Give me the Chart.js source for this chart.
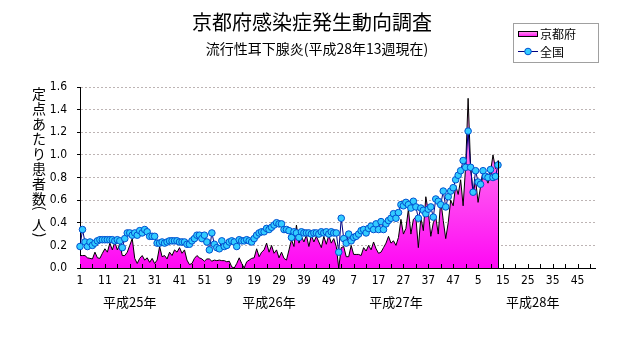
<!DOCTYPE html>
<html><head><meta charset="utf-8">
<script src="https://cdn.jsdelivr.net/npm/chart.js@4.4.0/dist/chart.umd.min.js"></script>
<style>html,body{margin:0;padding:0;background:#fff;}#wrap{width:631px;height:347px;}</style>
</head><body><div id="wrap"><canvas id="c" width="631" height="347"></canvas></div>
<script>
const chartTitle = '京都府感染症発生動向調査';
const chartSubtitle = '流行性耳下腺炎(平成28年13週現在)';
const yAxisTitle = '定点あたり患者数(人)';
const seriesNames = ['京都府', '全国'];
const yearLabels = ['平成25年', '平成26年', '平成27年', '平成28年'];
const weeksPerYear = [52, 52, 52, 52];
const yMin = 0, yMax = 1.6, yStep = 0.2;

const kyoto2013 = [0.11,0.11,0.11,0.09,0.085,0.08,0.14,0.09,0.085,0.13,
  0.17,0.14,0.22,0.16,0.23,0.16,0.21,0.11,0.11,0.14,
  0.20,0.26,0.085,0.04,0.085,0.11,0.07,0.09,0.05,0.085,
  0.04,0.07,0.19,0.10,0.11,0.08,0.14,0.11,0.16,0.14,
  0.18,0.13,0.16,0.07,0.03,0.04,0.085,0.11,0.09,0.08,
  0.06,0.08];
const kyoto2014 = [0.08,0.06,0.07,0.065,0.07,0.065,0.065,0.055,0.06,0.01,
  0.0,0.04,0.09,0.04,0.0,0.055,0.07,0.085,0.09,0.17,
  0.10,0.14,0.16,0.22,0.14,0.20,0.13,0.16,0.09,0.14,
  0.085,0.07,0.16,0.25,0.19,0.38,0.22,0.28,0.23,0.29,
  0.19,0.29,0.23,0.28,0.23,0.18,0.28,0.21,0.29,0.22,
  0.26,0.19];
const kyoto2015 = [0.0,0.18,0.19,0.10,0.10,0.20,0.12,0.12,0.12,0.11,
  0.18,0.15,0.20,0.16,0.23,0.17,0.13,0.14,0.18,0.22,
  0.28,0.22,0.24,0.20,0.27,0.43,0.30,0.35,0.52,0.30,
  0.43,0.45,0.18,0.45,0.33,0.63,0.50,0.28,0.40,0.45,
  0.30,0.60,0.42,0.26,0.40,0.60,0.55,0.73,0.65,0.78,
  0.55,0.90];
const kyoto2016 = [1.50,0.90,0.65,0.78,0.58,0.72,0.82,0.80,0.75,0.85,1.00,0.88,0.95];

const national2013 = [0.19,0.34,0.23,0.19,0.23,0.20,0.22,0.24,0.25,0.25,
  0.25,0.25,0.25,0.25,0.24,0.25,0.24,0.18,0.26,0.31,
  0.31,0.29,0.31,0.29,0.33,0.31,0.34,0.32,0.28,0.28,
  0.28,0.22,0.22,0.23,0.22,0.23,0.24,0.24,0.24,0.24,
  0.23,0.23,0.23,0.21,0.21,0.24,0.26,0.29,0.29,0.26,
  0.29,0.23];
const national2014 = [0.16,0.31,0.21,0.18,0.17,0.24,0.19,0.20,0.23,0.24,
  0.23,0.19,0.25,0.24,0.24,0.25,0.24,0.23,0.26,0.29,
  0.31,0.32,0.32,0.35,0.34,0.36,0.38,0.40,0.39,0.39,
  0.34,0.34,0.33,0.27,0.32,0.31,0.27,0.32,0.31,0.31,
  0.31,0.30,0.31,0.31,0.30,0.32,0.31,0.32,0.30,0.32,
  0.31,0.31];
const national2015 = [0.14,0.44,0.26,0.22,0.30,0.24,0.27,0.28,0.30,0.33,
  0.34,0.31,0.35,0.37,0.34,0.39,0.34,0.41,0.34,0.39,
  0.42,0.44,0.48,0.44,0.49,0.56,0.55,0.58,0.56,0.53,
  0.59,0.54,0.44,0.53,0.51,0.48,0.52,0.54,0.45,0.61,
  0.59,0.56,0.68,0.54,0.63,0.68,0.71,0.78,0.82,0.86,
  0.95,0.89];
const national2016 = [1.21,0.89,0.67,0.86,0.76,0.74,0.86,0.81,0.80,0.87,0.80,0.81,0.91];

// categories: week numbers of each year
const categories = [];
weeksPerYear.forEach(n => { for (let w = 1; w <= n; w++) categories.push(String(w)); });
const padTo = (arr) => arr.concat(new Array(categories.length - arr.length).fill(null));
const kyotoValues = padTo([...kyoto2013, ...kyoto2014, ...kyoto2015, ...kyoto2016]);
const nationalValues = padTo([...national2013, ...national2014, ...national2015, ...national2016]);

const JP = "'Noto Sans CJK JP','Noto Sans',sans-serif";
const NUM = "'Liberation Sans Narrow','DejaVu Sans Condensed','Liberation Sans',sans-serif";

function pinkGradient(ctx, top, bottom) {
  const g = ctx.createLinearGradient(0, top, 0, bottom);
  g.addColorStop(0, '#ffa8ee');
  g.addColorStop(1, '#ff08f4');
  return g;
}

const decor = {
  id: 'decor',
  afterDatasetsDraw(chart) {
    const {ctx, scales: {x, y}} = chart;
    let last = -1;
    kyotoValues.forEach((v, i) => { if (v !== null) last = i; });
    if (last >= 0) {
      const px = Math.round(x.getPixelForValue(last)) + 0.5;
      ctx.save();
      ctx.strokeStyle = '#000'; ctx.lineWidth = 1;
      ctx.beginPath();
      ctx.moveTo(px, y.getPixelForValue(kyotoValues[last]));
      ctx.lineTo(px, y.getPixelForValue(0));
      ctx.stroke();
      ctx.restore();
    }
  },
  afterDraw(chart) {
    const {ctx, scales: {x, y}, chartArea: a} = chart;
    ctx.save();
    ctx.fillStyle = '#000';
    ctx.textBaseline = 'middle';
    ctx.textAlign = 'center';
    ctx.font = '20px ' + JP;
    ctx.fillText(chartTitle, 312, 22);
    ctx.font = '14px ' + JP;
    ctx.fillText(chartSubtitle, 317, 49);
    // x tick marks every 5 weeks, pointing inward
    ctx.strokeStyle = '#000'; ctx.lineWidth = 1;
    ctx.beginPath();
    for (let i = 0; i < categories.length; i += 5) {
      const px = Math.round(x.getPixelForValue(i)) + 0.5;
      ctx.moveTo(px, a.bottom - 4);
      ctx.lineTo(px, a.bottom);
    }
    ctx.stroke();
    // year labels
    ctx.font = '13px ' + JP;
    const yearAnchor = [20, 76, 127, 182];
    yearLabels.forEach((t, i) => ctx.fillText(t, x.getPixelForValue(yearAnchor[i]), 302));
    // vertical y-axis title
    ctx.font = '14px ' + JP;
    let cy = 94;
    for (const ch of yAxisTitle) {
      if (ch === '(' || ch === ')') {
        const yy = ch === '(' ? cy - 6 : cy - 5;
        ctx.save();
        ctx.translate(40, yy);
        ctx.rotate(Math.PI / 2);
        ctx.fillText(ch, 0, 0);
        ctx.restore();
        cy += ch === '(' ? 11 : 10;
      } else {
        ctx.fillText(ch, 39, cy);
        cy += 15;
      }
    }
    // legend
    ctx.strokeStyle = '#a0a0a0';
    ctx.strokeRect(513.5, 23.5, 85, 39);
    ctx.fillStyle = pinkGradient(ctx, 31, 37);
    ctx.fillRect(518, 31, 20, 6);
    ctx.strokeStyle = '#000';
    ctx.strokeRect(518.5, 31.5, 19, 5);
    ctx.strokeStyle = '#000080';
    ctx.beginPath(); ctx.moveTo(518, 51.5); ctx.lineTo(538, 51.5); ctx.stroke();
    ctx.beginPath(); ctx.arc(528, 51.5, 3.3, 0, Math.PI * 2);
    ctx.fillStyle = '#33ccff'; ctx.fill();
    ctx.strokeStyle = '#0050d0'; ctx.stroke();
    ctx.fillStyle = '#000';
    ctx.textAlign = 'left';
    ctx.font = '12px ' + JP;
    ctx.fillText(seriesNames[0], 540, 34);
    ctx.fillText(seriesNames[1], 540, 52);
    ctx.restore();
  }
};

new Chart(document.getElementById('c'), {
  type: 'line',
  data: {
    labels: categories,
    datasets: [
      {
        label: seriesNames[1],
        data: nationalValues,
        order: 0,
        borderColor: '#000080',
        borderWidth: 1,
        pointRadius: 3.3,
        pointBackgroundColor: '#33ccff',
        pointBorderColor: '#0050d0',
        pointBorderWidth: 1,
        tension: 0,
        fill: false,
        spanGaps: false
      },
      {
        label: seriesNames[0],
        data: kyotoValues,
        order: 1,
        borderColor: '#000',
        borderWidth: 1,
        pointRadius: 0,
        tension: 0,
        fill: 'origin',
        backgroundColor: (c) => {
          const a = c.chart.chartArea;
          if (!a) return '#ff40ee';
          return pinkGradient(c.chart.ctx, a.top, a.bottom);
        }
      }
    ]
  },
  options: {
    responsive: false,
    animation: false,
    events: [],
    layout: { padding: { left: 0, right: 36, top: 87, bottom: 0 } },
    plugins: { legend: { display: false }, tooltip: { enabled: false }, title: { display: false } },
    scales: {
      x: {
        type: 'category',
        offset: false,
        grid: { display: false, drawTicks: false },
        border: { display: true, color: '#000', width: 1 },
        ticks: {
          autoSkip: false, maxRotation: 0, minRotation: 0, padding: 6,
          color: '#000', font: { family: NUM, size: 12 },
          callback: function (v, i) { return i % 10 === 0 ? this.getLabelForValue(v) : ''; }
        },
        afterFit: (s) => { s.height = 79; }
      },
      y: {
        min: yMin, max: yMax,
        ticks: {
          stepSize: yStep, padding: 10, color: '#000',
          font: { family: NUM, size: 12 },
          callback: (v) => Number(v).toFixed(1)
        },
        grid: {
          color: (c) => (c.tick && c.tick.value === 0) ? 'rgba(0,0,0,0)' : '#bdb4b4',
          tickColor: '#000', tickLength: 3, drawTicks: true, tickBorderDash: []
        },
        border: { display: true, color: '#000', width: 1, dash: [2, 2] },
        afterFit: (s) => { s.width = 80; }
      }
    }
  },
  plugins: [decor]
});
</script>
</body></html>
